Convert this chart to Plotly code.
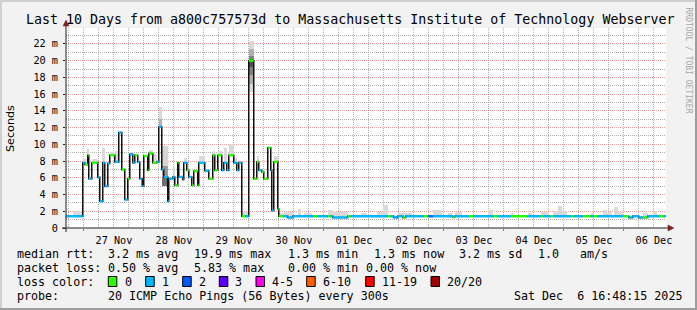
import plotly.graph_objects as go
import pandas as pd

START = pd.Timestamp("2025-11-26 16:48:15")
END = pd.Timestamp("2025-12-06 16:48:15")

# median rtt steps: start (hours after START), median (ms), loss class
SEG_START_H = [0, 6.7, 7.5, 8.7, 9.1, 10.3, 12.7, 13.5, 14.7, 15.5,
               16.7, 17.5, 19.5, 21.1, 22.3, 23.5, 24.7, 25.5, 26.7, 27.5,
               28.7, 29.5, 30.5, 31.1, 32.7, 33.1, 34.7, 36.3, 37.1, 38.3,
               39.1, 40.7, 41.1, 42.7, 43.5, 44.7, 45.1, 46.7, 47.1, 48.3,
               49.1, 50.3, 51.1, 52.7, 53.1, 55.5, 57.1, 58.7, 59.5, 60.7,
               62.3, 63.1, 64.3, 65.1, 67.1, 68.3, 69.1, 70.3, 71.9, 73.1,
               75.1, 76.3, 77.1, 78.3, 79.1, 80.7, 81.9, 82.3, 83.1, 84.7,
               85.1, 87.1, 88.7, 90.7, 99.1, 100.7, 104.7, 105.9, 106.7, 112.7,
               113.9, 128.7, 129.9, 131.1, 132.7, 134.7, 135.9, 143.1, 144.7, 145.1,
               146.7, 154.7, 155.5, 161.1, 163.1, 171.1, 172.7, 177.9, 184.7, 189.9,
               191.1, 193.9, 195.1, 201.9, 203.1, 206.7, 209.9, 211.1, 212.7, 222.7,
               225.1, 226.7, 229.1, 230.7, 232.7, 237.1, 239.1]
MEDIAN_MS = [1.4, 7.8, 7.6, 8.7, 5.9, 7.8, 6.05, 3.2, 7.8, 5.0,
             7.7, 8.7, 7.9, 11.4, 7.0, 3.4, 5.9, 8.8, 7.8, 8.7,
             7.9, 5.9, 5.0, 8.6, 6.9, 8.9, 7.8, 7.9, 12.1, 7.0,
             6.1, 3.2, 5.9, 6.1, 5.1, 7.8, 6.1, 5.8, 7.8, 6.9,
             6.1, 5.1, 6.8, 5.1, 7.8, 6.85, 5.9, 8.7, 6.9, 8.7,
             6.9, 7.8, 6.9, 8.7, 7.8, 6.9, 7.8, 1.4, 1.4, 20.0,
             5.9, 7.9, 6.9, 6.7, 5.9, 9.6, 6.9, 2.1, 7.9, 2.3,
             1.4, 1.4, 1.26, 1.4, 1.4, 1.4, 1.4, 1.4, 1.26, 1.4,
             1.4, 1.4, 1.4, 1.26, 1.4, 1.26, 1.4, 1.4, 1.4, 1.4,
             1.4, 1.3, 1.4, 1.4, 1.4, 1.4, 1.4, 1.4, 1.4, 1.4,
             1.4, 1.4, 1.4, 1.4, 1.4, 1.4, 1.4, 1.4, 1.4, 1.4,
             1.26, 1.4, 1.26, 1.26, 1.4, 1.4, 1.4]
LOSS_CLASS = [1, 1, 0, 0, 1, 0, 1, 1, 1, 1,
              1, 0, 1, 1, 0, 1, 0, 1, 1, 0,
              1, 1, 1, 0, 0, 0, 0, 1, 1, 1,
              1, 1, 1, 1, 0, 0, 1, 1, 1, 0,
              1, 0, 0, 0, 1, 1, 0, 0, 0, 0,
              1, 1, 1, 0, 1, 1, 1, 0, 1, 0,
              0, 0, 1, 0, 0, 0, 1, 1, 0, 0,
              0, 1, 1, 1, 0, 1, 0, 1, 1, 0,
              1, 0, 1, 1, 1, 0, 1, 0, 1, 2,
              1, 0, 1, 0, 1, 0, 1, 0, 1, 0,
              1, 0, 1, 0, 1, 0, 1, 0, 1, 0,
              1, 1, 1, 0, 1, 0, 1]
LOSS_COLORS = ["#26ff00", "#00b8ff", "#0059ff"]

# smoke (ping spread) blocks
SMOKE_START_H = [2.7, 6.7, 8.3, 10.3, 14.5, 17.5, 19.5, 25.5, 33.1, 34.7,
                 37.1, 37.1, 38.3, 38.3, 38.3, 42.7, 47.1, 53.1, 58.7, 60.7,
                 63.1, 65.1, 67.1, 70.3, 73.1, 73.1, 73.1, 73.1, 76.3, 81.9,
                 83.1, 85.1, 87.1, 92.7, 95.1, 104.7, 106.7, 117.9, 124.3, 126.7,
                 132.7, 146.7, 152.7, 155.5, 168.7, 177.9, 184.7, 189.9, 194.7, 196.7,
                 198.3, 209.9, 214.7, 216.3, 219.1, 220.7, 230.7, 234.7]
SMOKE_END_H = [6.7, 8.3, 9.1, 12.7, 15.5, 19.5, 21.1, 26.7, 34.7, 36.3,
               38.3, 38.3, 40.7, 40.7, 40.7, 43.5, 48.3, 55.5, 59.5, 62.3,
               64.3, 67.1, 68.3, 73.1, 75.1, 75.1, 75.1, 75.1, 77.1, 82.3,
               84.7, 87.1, 90.7, 93.9, 98.3, 106.7, 112.7, 120.3, 126.7, 128.7,
               138.3, 150.3, 154.7, 158.3, 170.7, 179.1, 186.3, 193.1, 196.7, 198.3,
               200.3, 211.1, 216.3, 218.3, 220.7, 222.7, 232.7, 236.3]
SMOKE_LO = [1.4, 7.6, 8.7, 7.8, 7.8, 8.7, 7.9, 8.8, 8.9, 7.8,
            12.1, 12.1, 7.4, 6.1, 5.0, 6.1, 7.8, 7.8, 8.7, 8.7,
            7.8, 8.7, 7.8, 1.4, 16.2, 17.2, 18.3, 19.2, 7.9, 6.9,
            7.9, 1.4, 1.4, 1.4, 1.4, 1.4, 1.4, 1.4, 1.4, 1.4,
            1.4, 1.4, 1.4, 1.4, 1.4, 1.4, 1.4, 1.4, 1.4, 1.4,
            1.4, 1.4, 1.4, 1.4, 1.4, 1.4, 1.4, 1.4]
SMOKE_HI = [2.0, 8.3, 9.5, 8.2, 9.6, 9.1, 9.2, 9.1, 9.3, 8.8,
            14.5, 13.0, 9.8, 7.4, 6.1, 7.3, 8.4, 8.6, 9.2, 9.2,
            9.6, 10.0, 8.4, 1.9, 22.4, 21.4, 20.6, 20.2, 8.6, 7.8,
            8.6, 1.8, 1.9, 2.3, 1.8, 2.2, 1.9, 1.8, 1.9, 2.8,
            1.8, 2.1, 1.8, 1.9, 2.2, 1.8, 1.8, 1.9, 2.0, 2.6,
            2.0, 1.8, 2.1, 1.9, 2.5, 1.9, 1.8, 2.0]
SMOKE_GRAY = ["#d9d9d9"] * 11 + ["#b5b5b5", "#d5d5d5", "#9a9a9a", "#6e6e6e"] + \
             ["#d9d9d9"] * 10 + ["#b0b0b0", "#808080", "#505050"] + ["#d9d9d9"] * 30

Y_TICKS = [0, 2, 4, 6, 8, 10, 12, 14, 16, 18, 20, 22]
Y_LABELS = ["0", "2 m", "4 m", "6 m", "8 m", "10 m", "12 m", "14 m", "16 m", "18 m", "20 m", "22 m"]

TITLE = "Last 10 Days from a800c757573d to Massachusetts Institute of Technology Webserver"
LEGEND_ROWS = [
    [(16, "median rtt:"), (107.3, "3.2 ms avg"), (193.3, "19.9 ms max"), (286.7, "1.3 ms min"),
     (372.7, "1.3 ms now"), (458.3, "3.2 ms sd"), (536.7, "1.0"), (579.3, "am/s")],
    [(16, "packet loss:"), (107.3, "0.50 % avg"), (193.3, "5.83 % max"), (286.7, "0.00 % min"),
     (365, "0.00 % now")],
    [(16, "loss color:")],
    [(16, "probe:"), (107.3, "20 ICMP Echo Pings (56 Bytes) every 300s"), (513.3, "Sat Dec  6 16:48:15 2025")],
]
LEGEND_ROW_Y = [254.3, 268.3, 282.3, 296.0]
LOSS_LEGEND_LABELS = ["0", "1", "2", "3", "4-5", "6-10", "11-19", "20/20"]
LOSS_LEGEND_COLORS = ["#26ff00", "#00b8ff", "#0059ff", "#5e00ff", "#ff00ea", "#ff5e00", "#ff0000", "#a10000"]
LOSS_BOX_X = [108.3, 145.7, 182.7, 219.3, 256, 306.7, 365.7, 431]
LOSS_TEXT_X = [124, 161, 198, 234, 271, 321.7, 380.7, 445.7]

W, H = 697, 310
ML, MR, MT, MB = 66, 31, 28, 82
PW, PH = W - ML - MR, H - MT - MB
MONO = "DejaVu Sans Mono"


def px(x):
    return (x - ML) / PW


def py(y):
    return (MT + PH - y) / PH


def t_of(h):
    return START + pd.to_timedelta(h, unit="h")


fig = go.Figure()

# smoke
sm_mid = [t_of((a + b) / 2) for a, b in zip(SMOKE_START_H, SMOKE_END_H)]
sm_w = [(b - a) * 3600000 for a, b in zip(SMOKE_START_H, SMOKE_END_H)]
fig.add_trace(go.Bar(x=sm_mid, y=[h - l for l, h in zip(SMOKE_LO, SMOKE_HI)], base=SMOKE_LO,
                     width=sm_w, marker=dict(color=SMOKE_GRAY, line=dict(width=0)),
                     hoverinfo="skip"))

# median step line (black)
xs = [t_of(h) for h in SEG_START_H] + [END]
ys = MEDIAN_MS + [MEDIAN_MS[-1]]
fig.add_trace(go.Scatter(x=xs, y=ys, mode="lines", line=dict(color="#111111", width=1.5, shape="hv"),
                         hoverinfo="skip"))

# coloured horizontal pieces by loss
ends = SEG_START_H[1:] + [(END - START).total_seconds() / 3600]
for cls, col in enumerate(LOSS_COLORS):
    sx, sy = [], []
    for s, e, v, c in zip(SEG_START_H, ends, MEDIAN_MS, LOSS_CLASS):
        if c == cls:
            sx += [t_of(s), t_of(e), None]
            sy += [v, v, None]
    fig.add_trace(go.Scatter(x=sx, y=sy, mode="lines", line=dict(color=col, width=2.4),
                             hoverinfo="skip"))

GRID = "rgba(143,143,143,0.7)"
MGRID = "rgba(222,79,79,0.55)"

fig.update_layout(
    width=W, height=H, margin=dict(l=ML, r=MR, t=MT, b=MB, autoexpand=False),
    paper_bgcolor="#f2f2f2", plot_bgcolor="#ffffff", showlegend=False,
    barmode="overlay", bargap=0,
    xaxis=dict(type="date", range=[START, END], tickmode="linear", tick0="2025-11-27 00:00:00",
               dtick=86400000, tickformat="%d %b", ticklabelmode="period",
               showgrid=True, gridcolor=MGRID, griddash="1px,1px", gridwidth=1,
               ticks="outside", ticklen=2, tickcolor="#de4f4f", zeroline=False, showline=False,
               tickfont=dict(family=MONO, size=10.2, color="#000"), ticklabelstandoff=1,
               minor=dict(tickmode="linear", tick0="2025-11-26 18:00:00", dtick=21600000,
                          showgrid=True, gridcolor=GRID, griddash="1px,1px", gridwidth=1)),
    yaxis=dict(range=[0, 23.9], tickmode="array", tickvals=Y_TICKS, ticktext=Y_LABELS,
               showgrid=True, gridcolor=MGRID, griddash="1px,1px", gridwidth=1,
               ticks="outside", ticklen=2, tickcolor="#1f1f1f", zeroline=False, showline=False,
               tickfont=dict(family=MONO, size=10.2, color="#000"), ticklabelstandoff=3,
               minor=dict(tickmode="linear", tick0=1, dtick=2, showgrid=True, gridcolor=GRID,
                          griddash="1px,1px", gridwidth=1)),
)

shapes = []
# border shading
shapes.append(dict(type="rect", xref="paper", yref="paper", x0=px(0), x1=px(2), y0=py(310), y1=py(0),
                   fillcolor="#cfcfcf", line=dict(width=0)))
shapes.append(dict(type="rect", xref="paper", yref="paper", x0=px(0), x1=px(697), y0=py(2), y1=py(0),
                   fillcolor="#cfcfcf", line=dict(width=0)))
shapes.append(dict(type="rect", xref="paper", yref="paper", x0=px(695), x1=px(697), y0=py(310), y1=py(0),
                   fillcolor="#9e9e9e", line=dict(width=0)))
shapes.append(dict(type="rect", xref="paper", yref="paper", x0=px(0), x1=px(697), y0=py(310), y1=py(308),
                   fillcolor="#9e9e9e", line=dict(width=0)))
# axes with arrows
shapes.append(dict(type="line", xref="paper", yref="paper", x0=px(62), x1=px(669), y0=0, y1=0,
                   line=dict(color="#1f1f1f", width=1)))
shapes.append(dict(type="line", xref="paper", yref="paper", x0=0, x1=0, y0=py(232), y1=py(25),
                   line=dict(color="#1f1f1f", width=1)))
shapes.append(dict(type="path", xref="paper", yref="paper",
                   path=f"M {px(668)} {py(225)} L {px(674)} {py(228)} L {px(668)} {py(231)} Z",
                   fillcolor="#7f1f1f", line=dict(color="#7f1f1f", width=0.5)))
shapes.append(dict(type="path", xref="paper", yref="paper",
                   path=f"M {px(63)} {py(26)} L {px(66)} {py(20)} L {px(69)} {py(26)} Z",
                   fillcolor="#7f1f1f", line=dict(color="#7f1f1f", width=0.5)))
# loss colour boxes
for bx, col in zip(LOSS_BOX_X, LOSS_LEGEND_COLORS):
    shapes.append(dict(type="rect", xref="paper", yref="paper", x0=px(bx), x1=px(bx + 8.5),
                       y0=py(286.5), y1=py(276.5), fillcolor=col, line=dict(color="#000", width=1)))
fig.update_layout(shapes=shapes)

ann = []
ann.append(dict(text=TITLE, x=px(24), y=py(19), xref="paper", yref="paper", xanchor="left",
                yanchor="middle", showarrow=False, font=dict(family=MONO, size=13.3, color="#000")))
ann.append(dict(text="Seconds", x=px(10.5), y=py(128.6), xref="paper", yref="paper", textangle=-90,
                xanchor="center", yanchor="middle", showarrow=False,
                font=dict(family="DejaVu Sans", size=11.2, color="#000")))
ann.append(dict(text="RRDTOOL / TOBI OETIKER", x=px(688.5), y=py(60), xref="paper", yref="paper",
                textangle=90, xanchor="center", yanchor="middle", showarrow=False,
                font=dict(family=MONO, size=8.0, color="#a8a8a8")))
for row, yy in zip(LEGEND_ROWS, LEGEND_ROW_Y):
    for xx, txt in row:
        ann.append(dict(text=txt.replace(" ", "&nbsp;"), x=px(xx - 1), y=py(yy), xref="paper", yref="paper",
                        xanchor="left", yanchor="middle", showarrow=False,
                        font=dict(family=MONO, size=11.66, color="#000")))
for xx, txt in zip(LOSS_TEXT_X, LOSS_LEGEND_LABELS):
    ann.append(dict(text=txt, x=px(xx - 1), y=py(LEGEND_ROW_Y[2]), xref="paper", yref="paper",
                    xanchor="left", yanchor="middle", showarrow=False,
                    font=dict(family=MONO, size=11.66, color="#000")))
fig.update_layout(annotations=ann)

fig.write_html("out.html")
